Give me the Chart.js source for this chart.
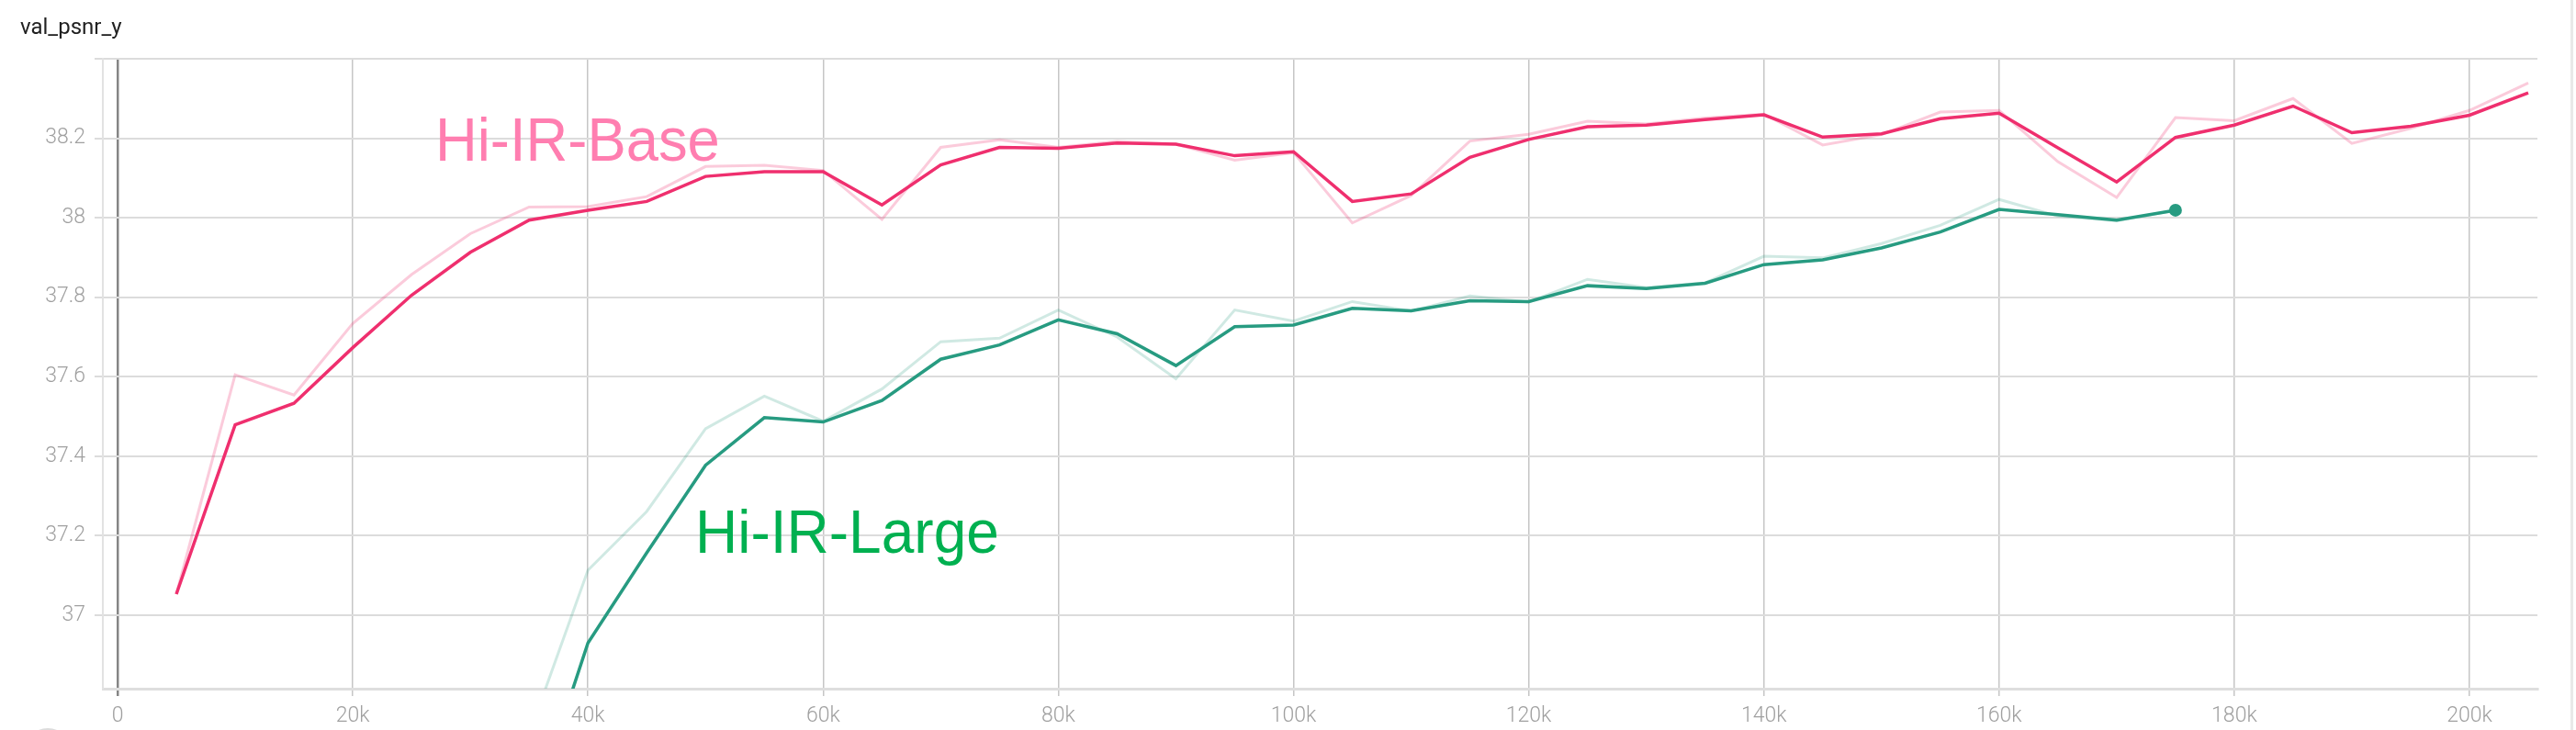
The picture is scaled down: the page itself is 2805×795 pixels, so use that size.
<!DOCTYPE html>
<html>
<head>
<meta charset="utf-8">
<script src="https://cdn.jsdelivr.net/npm/chart.js@4.4.1/dist/chart.umd.min.js"></script>
<style>
  html, body { margin: 0; padding: 0; background: #fff; }
  #wrap { width: 2805px; height: 795px; }
</style>
</head>
<body>
<div id="wrap"><canvas id="chart" width="2805" height="795"></canvas></div>
<script>
// steps (training iterations)
const baseSteps = [5000, 10000, 15000, 20000, 25000, 30000, 35000, 40000, 45000, 50000,
  55000, 60000, 65000, 70000, 75000, 80000, 85000, 90000, 95000, 100000,
  105000, 110000, 115000, 120000, 125000, 130000, 135000, 140000, 145000, 150000,
  155000, 160000, 165000, 170000, 175000, 180000, 185000, 190000, 195000, 200000, 205000];
const largeSteps = [35000, 40000, 45000, 50000, 55000, 60000, 65000, 70000, 75000, 80000,
  85000, 90000, 95000, 100000, 105000, 110000, 115000, 120000, 125000, 130000,
  135000, 140000, 145000, 150000, 155000, 160000, 165000, 170000, 175000];

// Hi-IR-Base: smoothed and raw
const baseSmooth = [37.053, 37.479, 37.533, 37.673, 37.805, 37.913, 37.994, 38.019, 38.041, 38.104,
  38.116, 38.116, 38.032, 38.133, 38.177, 38.175, 38.188, 38.185, 38.156, 38.166,
  38.041, 38.060, 38.152, 38.197, 38.229, 38.233, 38.247, 38.259, 38.203, 38.211,
  38.249, 38.263, 38.176, 38.090, 38.202, 38.233, 38.281, 38.214, 38.230, 38.258, 38.314];
const baseRaw = [37.053, 37.605, 37.554, 37.734, 37.857, 37.960, 38.027, 38.028, 38.053, 38.129,
  38.132, 38.119, 37.996, 38.177, 38.196, 38.177, 38.192, 38.185, 38.145, 38.164,
  37.987, 38.056, 38.193, 38.210, 38.243, 38.236, 38.251, 38.261, 38.183, 38.209,
  38.266, 38.270, 38.141, 38.051, 38.252, 38.244, 38.300, 38.187, 38.225, 38.270, 38.339];

// Hi-IR-Large: smoothed and raw
const largeSmooth = [36.48, 36.93, 37.157, 37.377, 37.497, 37.486, 37.540, 37.644, 37.680, 37.743,
  37.708, 37.628, 37.726, 37.730, 37.772, 37.766, 37.791, 37.789, 37.829, 37.822,
  37.835, 37.882, 37.894, 37.924, 37.964, 38.021, 38.008, 37.994, 38.019];
const largeRaw = [36.70, 37.113, 37.261, 37.469, 37.551, 37.488, 37.569, 37.688, 37.697, 37.768,
  37.700, 37.595, 37.768, 37.740, 37.789, 37.765, 37.803, 37.788, 37.845, 37.824,
  37.836, 37.903, 37.899, 37.935, 37.981, 38.046, 38.004, 37.992, 38.019];

const xTicks = [0, 20000, 40000, 60000, 80000, 100000, 120000, 140000, 160000, 180000, 200000];
const yTicks = [37, 37.2, 37.4, 37.6, 37.8, 38, 38.2, 38.4];

const PINK = '#ef2f6e';
const TEAL = '#279b81';

const toPoints = (xs, ys) => xs.map((x, i) => ({ x: x, y: ys[i] }));

// title, run labels and page edge
const decorations = {
  id: 'decorations',
  afterDraw(chart) {
    const ctx = chart.ctx;
    ctx.save();
    ctx.fillStyle = '#212121';
    ctx.font = '24px Roboto';
    ctx.textBaseline = 'alphabetic';
    ctx.fillText('val_psnr_y', 22, 37);

    ctx.font = '66px "Liberation Sans", Arial, sans-serif';
    ctx.fillStyle = '#ff7eb0';
    ctx.save();
    ctx.translate(474, 175);
    ctx.scale(0.96, 1);
    ctx.fillText('Hi-IR-Base', 0, 0);
    ctx.restore();

    ctx.fillStyle = '#00b050';
    ctx.save();
    ctx.translate(757, 602);
    ctx.scale(0.97, 1);
    ctx.fillText('Hi-IR-Large', 0, 0);
    ctx.restore();

    // right edge of the panel
    ctx.fillStyle = '#e8e8e8';
    ctx.fillRect(2799, 0, 3, 795);

    // faint circle cut off at the bottom left
    ctx.strokeStyle = '#dcdcdc';
    ctx.lineWidth = 2;
    ctx.beginPath();
    ctx.arc(52, 818, 24, 0, Math.PI * 2);
    ctx.stroke();
    ctx.restore();
  }
};

new Chart(document.getElementById('chart'), {
  type: 'line',
  data: {
    datasets: [
      {
        label: 'Hi-IR-Base',
        data: toPoints(baseSteps, baseSmooth),
        borderColor: PINK,
        borderWidth: 3.5,
        pointRadius: 0
      },
      {
        label: 'Hi-IR-Large',
        data: toPoints(largeSteps, largeSmooth),
        borderColor: TEAL,
        backgroundColor: TEAL,
        borderWidth: 3.5,
        pointRadius: (c) => c.dataIndex === largeSteps.length - 1 ? 7 : 0,
        pointBorderWidth: 0
      },
      {
        label: 'Hi-IR-Base raw',
        data: toPoints(baseSteps, baseRaw),
        borderColor: 'rgba(239, 47, 110, 0.25)',
        borderWidth: 3,
        pointRadius: 0
      },
      {
        label: 'Hi-IR-Large raw',
        data: toPoints(largeSteps, largeRaw),
        borderColor: 'rgba(39, 155, 129, 0.22)',
        borderWidth: 3,
        pointRadius: 0
      }
    ]
  },
  options: {
    responsive: false,
    animation: false,
    devicePixelRatio: 1,
    layout: { padding: { top: 64, right: 42, left: 0, bottom: 0 } },
    plugins: {
      legend: { display: false },
      tooltip: { enabled: false }
    },
    scales: {
      x: {
        type: 'linear',
        min: -1250,
        max: 205780,
        afterBuildTicks: (scale) => { scale.ticks = xTicks.map(v => ({ value: v })); },
        afterFit: (scale) => { scale.height = 45; },
        ticks: {
          padding: 8,
          color: '#a0a0a0',
          font: { family: 'Roboto', size: 23, weight: 300 },
          maxRotation: 0,
          callback: (v) => v === 0 ? '0' : (v / 1000) + 'k'
        },
        grid: {
          color: (c) => c.tick && c.tick.value === 0 ? '#858585' : '#c6c6c6',
          lineWidth: (c) => c.tick && c.tick.value === 0 ? 2.5 : 1.5,
          tickLength: 8
        },
        border: { display: true, color: '#dedede', width: 3 }
      },
      y: {
        type: 'linear',
        min: 36.815,
        max: 38.4,
        afterBuildTicks: (scale) => { scale.ticks = yTicks.map(v => ({ value: v })); },
        afterFit: (scale) => { scale.width = 112; },
        ticks: {
          padding: 10,
          color: '#a0a0a0',
          font: { family: 'Roboto', size: 23, weight: 300 },
          callback: (v) => v >= 38.39 ? '' : String(Math.round(v * 10) / 10)
        },
        grid: {
          color: '#dcdcdc',
          lineWidth: 2,
          tickLength: 9
        },
        border: { display: true, color: '#e2e2e2', width: 2 }
      }
    }
  },
  plugins: [decorations]
});
</script>
</body>
</html>
